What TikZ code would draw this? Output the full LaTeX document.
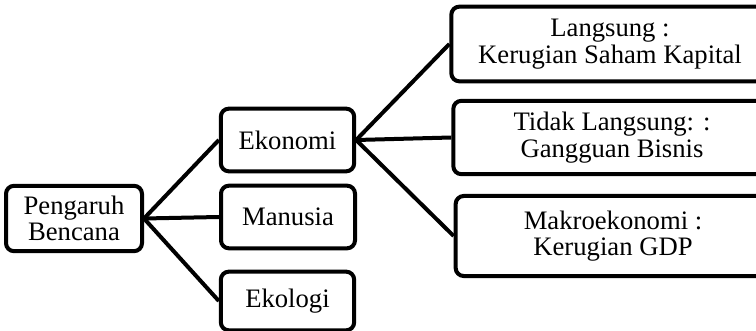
\documentclass[tikz,border=0pt]{standalone}
\usepackage{fontspec}
\setmainfont{Liberation Serif}
\tikzset{
	kotak/.style={draw,line width=3pt,rounded corners=6pt,align=center,inner sep=0pt,
		font=\fontsize{20}{20}\selectfont},
	garis/.style={line width=3pt}
}
\begin{document}
\begin{tikzpicture}[x=0.75pt,y=-0.75pt]
  %ukuran gambar
	\useasboundingbox (0,0) rectangle (756,331);
	
  %akar
	\node[kotak,minimum width=102pt,minimum height=49pt] (pengaruh) at (74,218.5) {Pengaruh\\Bencana};
	
  %cabang tengah
	\node[kotak,minimum width=100pt,minimum height=47pt] (ekonomi) at (287.5,140) {Ekonomi};
	\node[kotak,minimum width=100.5pt,minimum height=47pt] (manusia) at (288,217) {Manusia};
	\node[kotak,minimum width=100pt,minimum height=44pt] (ekologi) at (287.5,301) {Ekologi};
	
  %cabang ekonomi (sisi kanan terpotong)
	\node[kotak,minimum width=238pt,minimum height=56pt] (langsung) at (610,44) {Langsung :\\Kerugian Saham Kapital};
	\node[kotak,minimum width=238pt,minimum height=55pt] (tidak) at (612,137.5) {Tidak Langsung: :\\Gangguan Bisnis};
	\node[kotak,minimum width=236pt,minimum height=60pt] (makro) at (613,236) {Makroekonomi :\\Kerugian GDP};
	
  %garis
	\draw[garis] (pengaruh.east) -- (ekonomi.west);
	\draw[garis] (pengaruh.east) -- (manusia.west);
	\draw[garis] (pengaruh.east) -- (ekologi.west);
	\draw[garis] (ekonomi.east) -- (langsung.west);
	\draw[garis] (ekonomi.east) -- (tidak.west);
	\draw[garis] (ekonomi.east) -- (makro.west);
\end{tikzpicture}
\end{document}
